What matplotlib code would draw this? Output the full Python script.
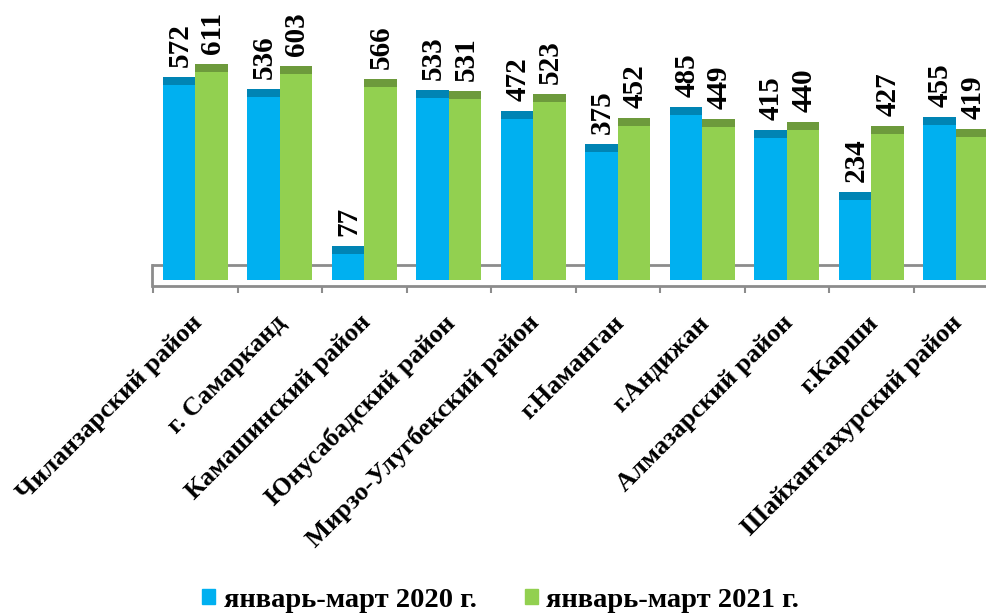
import numpy as np
import matplotlib
matplotlib.use("Agg")
import matplotlib.pyplot as plt
import matplotlib.patches as mpatches
import matplotlib.transforms as mtransforms

plt.rcParams['font.family'] = ['Liberation Serif', 'DejaVu Serif']
plt.rcParams['font.weight'] = 'bold'

districts = ['Чиланзарский район', 'г. Самарканд', 'Камашинский район',
             'Юнусабадский район', 'Мирзо-Улугбекский район', 'г.Наманган',
             'г.Андижан', 'Алмазарский район', 'г.Карши', 'Шайхантахурский район']
q1_2020 = [572, 536, 77, 533, 472, 375, 485, 415, 234, 455]
q1_2021 = [611, 603, 566, 531, 523, 452, 449, 440, 427, 419]
series_names = ['январь-март 2020 г.', 'январь-март 2021 г.']

blue, blue_top = '#00B0F0', '#0084B4'
green, green_top = '#92D050', '#6D9A3C'
floor_col = '#8C8C8C'

W, H = 986, 614
fig = plt.figure(figsize=(W / 100, H / 100), dpi=100)

# axes placed in pixels: x from 153 to 998 (runs past the right edge like the original)
ax_l, ax_r, ax_top, ax_bot = 153, 998, 0, 286
ax = fig.add_axes([ax_l / W, (H - ax_bot) / H, (ax_r - ax_l) / W, (ax_bot - ax_top) / H])

k = 0.341  # pixels per unit
ax.set_ylim(-6 / k, 280 / k)
ax.set_xlim(-0.5, len(districts) - 0.5)

x = np.arange(len(districts))
w = 0.382
cap = 8 / k

# floor (back edge + left side)
ax.plot([-0.5, len(districts)], [15 / k, 15 / k], color=floor_col, lw=2, zorder=1, clip_on=False)
ax.plot([-0.51, -0.51], [-6 / k, 15 / k], color=floor_col, lw=2, zorder=1, clip_on=False)

for vals, off, c, ct in [(q1_2020, -w / 2, blue, blue_top), (q1_2021, w / 2, green, green_top)]:
    ax.bar(x + off, vals, width=w, color=c, zorder=3)
    ax.bar(x + off, [cap] * len(vals), bottom=vals, width=w, color=ct, zorder=3)
    for xi, v in zip(x + off, vals):
        ax.annotate(str(v), (xi, v + cap), xytext=(1, 10), textcoords='offset pixels',
                    rotation=90, ha='center', va='bottom', fontsize=21, fontweight='bold')

for s in ['top', 'right', 'left']:
    ax.spines[s].set_visible(False)
ax.spines['bottom'].set_color(floor_col)
ax.spines['bottom'].set_linewidth(2)
ax.set_yticks([])

ax.set_xticks(x)
ax.set_xticklabels(districts, rotation=45, ha='right', fontsize=19, fontweight='bold')
ax.set_xticks(np.arange(-0.5, len(districts)), minor=True)
ax.tick_params(axis='x', which='major', length=0, pad=18)
ax.tick_params(axis='x', which='minor', length=5, width=1.5, color=floor_col)
shift = mtransforms.ScaledTranslation(11 / 100, 0, fig.dpi_scale_trans)
for lbl in ax.get_xticklabels():
    lbl.set_transform(lbl.get_transform() + shift)

handles = [mpatches.Patch(color=blue, label=series_names[0]),
           mpatches.Patch(color=green, label=series_names[1])]
fig.legend(handles=handles, loc='lower center', bbox_to_anchor=(0.508, -0.04), ncol=2,
           frameon=False, handlelength=0.45, handleheight=0.45, handletextpad=0.3,
           columnspacing=1.7, prop={'size': 20.5, 'weight': 'bold'})

fig.savefig('out.png', dpi=100)
